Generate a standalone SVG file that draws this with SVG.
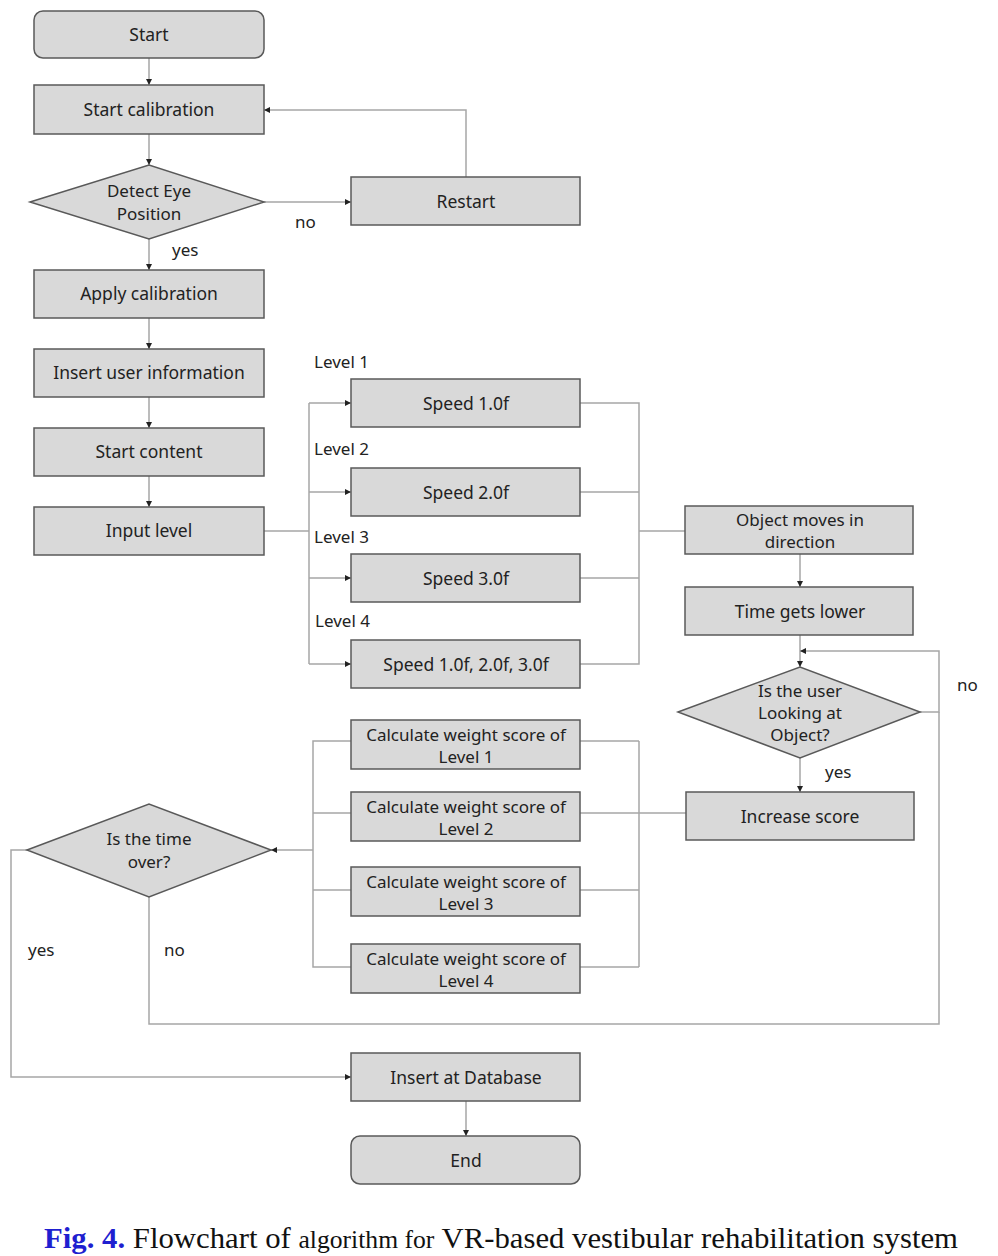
<svg xmlns="http://www.w3.org/2000/svg" width="998" height="1256" viewBox="0 0 998 1256">
<defs>
<marker id="ah" markerWidth="8" markerHeight="8" refX="7" refY="4" orient="auto" markerUnits="userSpaceOnUse">
<path d="M1,1 L7,4 L1,7 Z" fill="#222"/>
</marker>
<style>
.box{fill:#d9d9d9;stroke:#595959;stroke-width:1.5}
.t{font-family:"Noto Sans","Open Sans",sans-serif;font-size:17.5px;fill:#222;text-anchor:middle}
.m{font-size:17px}
.l{font-family:"Noto Sans","Open Sans",sans-serif;font-size:17px;fill:#222}
.c{fill:none;stroke:#a6a6a6;stroke-width:1.5}
.a{marker-end:url(#ah)}
</style>
</defs>
<rect width="998" height="1256" fill="#fff"/>
<g id="connectors">
<path class="c a" d="M149 58 V85"/>
<path class="c a" d="M149 134 V165"/>
<path class="c a" d="M264 202 H351"/>
<path class="c a" d="M466 177 V110 H264"/>
<path class="c a" d="M149 239 V270"/>
<path class="c a" d="M149 318 V349"/>
<path class="c a" d="M149 397 V428"/>
<path class="c a" d="M149 476 V507"/>
<path class="c" d="M264 531 H309 M309 403 V664"/>
<path class="c a" d="M309 403 H351"/>
<path class="c a" d="M309 492 H351"/>
<path class="c a" d="M309 578 H351"/>
<path class="c a" d="M309 664 H351"/>
<path class="c" d="M580 403 H639 V664 H580 M580 492 H639 M580 578 H639 M639 531 H685"/>
<path class="c a" d="M800 554 V587"/>
<path class="c a" d="M800 635 V667"/>
<path class="c a" d="M920 712 H939 V651 H800"/>
<path class="c a" d="M800 758 V792"/>
<path class="c" d="M686 813 H639 M639 741 V967 M580 741 H639 M580 813 H639 M580 890 H639 M580 967 H639"/>
<path class="c" d="M351 741 H313 V967 H351 M351 813 H313 M351 890 H313"/>
<path class="c a" d="M313 850 H271"/>
<path class="c a" d="M27 850 H11 V1077 H351"/>
<path class="c" d="M149 897 V1024 H939 V712"/>
<path class="c a" d="M466 1101 V1136"/>
</g>
<g id="start"><rect class="box" x="34" y="11" width="230" height="47" rx="9"/><text class="t" x="149" y="41">Start</text></g>
<g id="start-calibration"><rect class="box" x="34" y="85" width="230" height="49"/><text class="t" x="149" y="116">Start calibration</text></g>
<g id="detect-eye"><polygon class="box" points="30,202 149,165 264,202 149,239"/><text class="t m" x="149" y="197">Detect Eye</text><text class="t m" x="149" y="220">Position</text></g>
<g id="restart"><rect class="box" x="351" y="177" width="229" height="48"/><text class="t" x="466" y="208">Restart</text></g>
<g id="apply-calibration"><rect class="box" x="34" y="270" width="230" height="48"/><text class="t" x="149" y="300">Apply calibration</text></g>
<g id="insert-user"><rect class="box" x="34" y="349" width="230" height="48"/><text class="t" x="149" y="379">Insert user information</text></g>
<g id="start-content"><rect class="box" x="34" y="428" width="230" height="48"/><text class="t" x="149" y="458">Start content</text></g>
<g id="input-level"><rect class="box" x="34" y="507" width="230" height="48"/><text class="t" x="149" y="537">Input level</text></g>
<g id="speed1"><rect class="box" x="351" y="379" width="229" height="48"/><text class="t" x="466" y="410">Speed 1.0f</text></g>
<g id="speed2"><rect class="box" x="351" y="468" width="229" height="48"/><text class="t" x="466" y="499">Speed 2.0f</text></g>
<g id="speed3"><rect class="box" x="351" y="554" width="229" height="48"/><text class="t" x="466" y="585">Speed 3.0f</text></g>
<g id="speed4"><rect class="box" x="351" y="640" width="229" height="48"/><text class="t" x="466" y="671">Speed 1.0f, 2.0f, 3.0f</text></g>
<g id="object-moves"><rect class="box" x="685" y="506" width="228" height="48"/><text class="t m" x="800" y="526">Object moves in</text><text class="t m" x="800" y="548">direction</text></g>
<g id="time-lower"><rect class="box" x="685" y="587" width="228" height="48"/><text class="t" x="800" y="618">Time gets lower</text></g>
<g id="looking"><polygon class="box" points="678,712 800,667 920,712 800,758"/><text class="t m" x="800" y="697">Is the user</text><text class="t m" x="800" y="719">Looking at</text><text class="t m" x="800" y="741">Object?</text></g>
<g id="increase-score"><rect class="box" x="686" y="792" width="228" height="48"/><text class="t" x="800" y="823">Increase score</text></g>
<g id="calc1"><rect class="box" x="351" y="720" width="229" height="49"/><text class="t m" x="466" y="741">Calculate weight score of</text><text class="t m" x="466" y="763">Level 1</text></g>
<g id="calc2"><rect class="box" x="351" y="792" width="229" height="49"/><text class="t m" x="466" y="813">Calculate weight score of</text><text class="t m" x="466" y="835">Level 2</text></g>
<g id="calc3"><rect class="box" x="351" y="867" width="229" height="49"/><text class="t m" x="466" y="888">Calculate weight score of</text><text class="t m" x="466" y="910">Level 3</text></g>
<g id="calc4"><rect class="box" x="351" y="944" width="229" height="49"/><text class="t m" x="466" y="965">Calculate weight score of</text><text class="t m" x="466" y="987">Level 4</text></g>
<g id="time-over"><polygon class="box" points="27,850 149,804 271,850 149,897"/><text class="t m" x="149" y="845">Is the time</text><text class="t m" x="149" y="868">over?</text></g>
<g id="insert-db"><rect class="box" x="351" y="1053" width="229" height="48"/><text class="t" x="466" y="1084">Insert at Database</text></g>
<g id="end"><rect class="box" x="351" y="1136" width="229" height="48" rx="9"/><text class="t" x="466" y="1167">End</text></g>
<g id="labels">
<text class="l" x="295" y="228">no</text>
<text class="l" x="172" y="256">yes</text>
<text class="l" x="314" y="368">Level 1</text>
<text class="l" x="314" y="455">Level 2</text>
<text class="l" x="314" y="543">Level 3</text>
<text class="l" x="315" y="627">Level 4</text>
<text class="l" x="957" y="691">no</text>
<text class="l" x="825" y="778">yes</text>
<text class="l" x="28" y="956">yes</text>
<text class="l" x="164" y="956">no</text>
</g>
<g id="caption">
<text x="44" y="1248" font-family="'Liberation Serif',serif" font-size="30" fill="#111" textLength="914" lengthAdjust="spacingAndGlyphs"><tspan fill="#1f1fd0" font-weight="bold">Fig. 4.</tspan> Flowchart of <tspan font-size="25">algorithm for</tspan> VR-based vestibular rehabilitation system</text>
</g>
</svg>
